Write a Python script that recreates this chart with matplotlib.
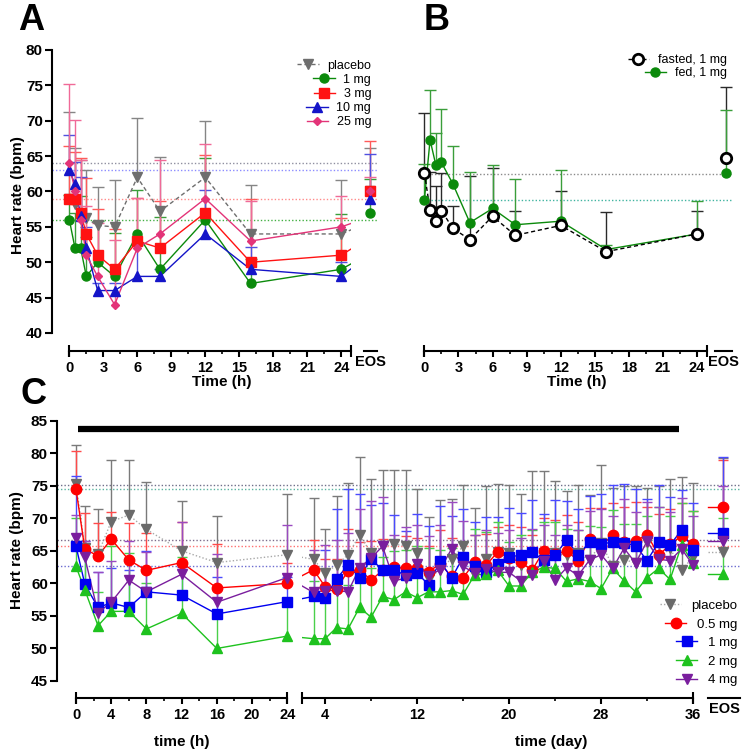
import matplotlib
matplotlib.use("Agg")
import matplotlib.pyplot as plt
from matplotlib.legend import Legend
from matplotlib.lines import Line2D
from matplotlib.path import Path
from matplotlib.transforms import Affine2D, blended_transform_factory

plt.rcParams["font.family"] = ["Liberation Sans", "DejaVu Sans"]

# ---------------- panel A: single ascending dose ----------------
a_time = [0, 0.5, 1, 1.5, 2.5, 4, 6, 8, 12, 16, 24]
a_labels = ["placebo", "1 mg", "3 mg", "10 mg", "25 mg"]
a_placebo = [59, 58.2, 56.3, 56.2, 55.2, 55, 62, 57.2, 62, 54, 54]
a_placebo_sd = [12.3, 8.0, 8.1, 6.8, 5.4, 6.6, 8.4, 7.7, 7.9, 6.9, 7.6]
a_1mg = [56, 52, 52, 48, 50, 48, 54, 49, 56, 47, 49]
a_1mg_sd = [3.5, 5.0, 7.3, 5.5, 5.8, 6.1, 6.2, 7.4, 8.8, 3.5, 7.8]
a_3mg = [59, 59, 57, 54, 51, 49, 53, 52, 57, 50, 51]
a_3mg_sd = [7.4, 6.6, 7.7, 7.9, 6.5, 5.7, 6.1, 6.6, 8.2, 8.9, 5.2]
a_10mg = [63, 61, 56.5, 52, 46, 46, 48, 48, 54, 49, 48]
a_10mg_sd = [5.0, 3.2, 5.6, 3.0, 1.0, 1.0, 4.5, 1.0, 6.2, 3.2, 2.1]
a_25mg = [64, 60, 56, 51, 48, 44, 52, 54, 59, 53, 55]
a_25mg_sd = [11.2, 10.1, 8.4, 7.0, 7.6, 9.2, 7.1, 10.5, 7.7, 5.7, 4.3]
a_eos = [60, 57, 60, 59, 60]
a_eos_sd = [6.2, 4.8, 7.2, 6.3, 2.0]
a_baseline = [64, 63, 59, 56]

# ---------------- panel B: food effect ----------------
b_labels = ["fasted, 1 mg", "fed, 1 mg"]
b_fasted = [62.6, 57.4, 55.9, 57.3, 54.8, 53.2, 56.5, 53.8, 55.2, 51.5, 54.0]
b_fasted_sd = [8.5, 5.4, 4.9, 5.3, 3.2, 9.0, 6.8, 3.4, 4.9, 5.6, 3.2]
b_fed = [58.8, 67.3, 63.8, 64.1, 61.1, 55.6, 57.6, 55.3, 55.8, 51.8, 54.0]
b_fed_sd = [5.1, 7.0, 4.4, 7.5, 5.3, 7.1, 6.2, 6.5, 7.2, 0.7, 4.7]
b_eos = [64.8, 62.6]
b_eos_sd = [9.9, 8.9]
b_baseline = [62.5, 58.8]

# ---------------- panel C: multiple dose ----------------
c_hours = [0, 1, 2.5, 4, 6, 8, 12, 16, 24]
c_days = list(range(3, 37))
c_labels = ["placebo", "0.5 mg", "1 mg", "2 mg", "4 mg"]

c_placebo_h = [75.3, 65.5, 64.5, 69.5, 70.5, 68.3, 65.0, 63.2, 64.4]
c_placebo_h_sd = [5.9, 6.4, 6.9, 9.5, 8.5, 7.3, 7.7, 7.1, 9.4]
c_placebo_d = [63.7, 61.6, 62.8, 64.4, 67.4, 64.7, 65.7, 66.0, 65.8, 64.7, 60.6, 62.2,
               63.8, 65.7, 61.3, 63.8, 64.9, 64.6, 62.8, 64.6, 64.7, 64.6, 64.4, 64.6,
               63.6, 66.2, 62.7, 63.6, 63.2, 66.4, 63.7, 65.4, 62.1, 64.0]
c_placebo_d_sd = [9.4, 6.8, 10.7, 11.0, 12.0, 11.3, 11.8, 11.5, 11.7, 9.8, 9.6, 10.6,
                  9.2, 9.4, 10.3, 11.2, 10.3, 10.5, 11.0, 12.6, 12.6, 11.1, 9.8, 10.5,
                  10.0, 12.0, 11.9, 11.3, 11.7, 8.2, 11.2, 10.6, 14.2, 11.4]

c_05mg_h = [74.5, 65.3, 64.2, 66.8, 63.6, 62.0, 63.2, 59.3, 60.0]
c_05mg_h_sd = [5.9, 5.5, 5.1, 4.1, 5.7, 5.8, 6.2, 6.7, 3.1]
c_05mg_d = [62.1, 59.5, 59.2, 61.9, 62.1, 60.5, 62.0, 62.5, 62.3, 62.4, 61.8, 63.0,
            61.1, 60.8, 63.3, 62.8, 64.8, 63.9, 63.3, 62.0, 65.0, 64.5, 65.0, 63.5,
            66.8, 65.8, 67.4, 66.3, 66.5, 67.5, 64.3, 66.0, 67.3, 66.0]
c_05mg_d_sd = [4.6, 4.2, 4.5, 6.5, 4.2, 6.0, 4.8, 4.2, 5.0, 4.5, 4.0, 5.2,
               5.8, 5.5, 4.2, 4.8, 3.8, 5.0, 5.3, 5.5, 5.0, 5.2, 5.5, 6.0,
               4.8, 5.8, 5.0, 5.5, 6.0, 4.2, 6.3, 5.5, 5.0, 5.2]

c_1mg_h = [65.7, 59.9, 56.3, 57.0, 56.3, 58.7, 58.2, 55.3, 57.2]
c_1mg_h_sd = [10.8, 6.6, 5.5, 5.3, 5.7, 6.3, 4.3, 5.7, 3.8]
c_1mg_d = [58.0, 57.8, 60.7, 62.8, 60.9, 63.8, 62.0, 62.0, 61.3, 61.6, 59.8, 63.4,
           60.8, 64.0, 62.6, 61.7, 63.0, 64.1, 64.3, 64.8, 63.6, 64.3, 66.7, 64.4,
           66.3, 66.1, 66.3, 66.2, 65.8, 63.5, 66.3, 65.9, 68.2, 65.1]
c_1mg_d_sd = [6.4, 7.4, 10.7, 11.7, 12.8, 8.2, 10.3, 8.5, 6.8, 9.0, 9.0, 8.5,
              9.5, 7.5, 6.8, 8.5, 7.2, 7.5, 6.5, 8.0, 7.0, 8.5, 6.0, 7.0,
              7.2, 7.6, 8.8, 9.0, 8.7, 9.5, 8.8, 7.3, 6.2, 7.2]

c_2mg_h = [62.6, 59.0, 53.5, 55.7, 55.7, 53.0, 55.4, 50.0, 51.9]
c_2mg_h_sd = [7.4, 7.0, 5.1, 10.0, 9.0, 7.0, 8.6, 5.0, 5.1]
c_2mg_d = [51.5, 51.5, 53.2, 53.0, 56.3, 54.8, 58.0, 57.5, 58.7, 57.8, 58.7, 58.7,
           58.9, 58.3, 61.3, 61.4, 62.0, 59.6, 59.6, 61.7, 62.5, 62.3, 60.3, 60.7,
           60.3, 59.2, 62.3, 60.4, 58.7, 60.9, 62.3, 60.6, 65.9, 63.1]
c_2mg_d_sd = [8.8, 8.0, 7.0, 6.8, 5.5, 7.5, 6.0, 7.5, 6.5, 8.0, 6.8, 6.5,
              6.5, 8.0, 7.0, 6.5, 7.5, 6.8, 7.8, 6.5, 7.0, 7.2, 8.0, 7.5,
              8.5, 9.5, 9.0, 8.8, 10.5, 9.5, 9.5, 9.8, 6.5, 8.0]

c_4mg_h = [66.9, 64.0, 55.5, 57.1, 60.5, 58.7, 61.4, 57.1, 60.9]
c_4mg_h_sd = [3.6, 2.5, 6.2, 6.4, 6.0, 6.1, 8.0, 7.4, 8.0]
c_4mg_d = [58.6, 58.9, 58.9, 58.7, 62.4, 63.9, 65.7, 60.4, 60.8, 63.0, 61.1, 62.1,
           65.3, 62.6, 61.6, 62.2, 61.7, 61.7, 60.4, 61.3, 63.5, 60.5, 62.4, 61.2,
           63.6, 64.4, 62.3, 65.4, 63.1, 66.5, 63.7, 63.5, 65.3, 62.8]
c_4mg_d_sd = [6.5, 7.0, 7.8, 9.0, 9.0, 8.8, 7.5, 7.0, 7.8, 6.0, 6.2, 6.8,
              7.2, 7.0, 5.8, 6.0, 6.0, 6.5, 6.5, 7.0, 5.5, 7.0, 6.5, 7.0,
              7.5, 7.0, 8.0, 7.5, 7.8, 6.0, 8.0, 7.5, 7.8, 7.5]

c_eos = [64.9, 71.7, 67.8, 61.5, 66.5]
c_eos_sd = [14.3, 7.3, 11.6, 8.5, 8.5]
c_baseline = [75.1, 74.5, 66.7, 65.7, 62.7]
c_treatment = (0.25, 34.8)  # hours start, day end of dosing bar

# ---------------- layout ----------------
W, H = 752, 756
fig = plt.figure(figsize=(W / 100, H / 100), dpi=100)


def px_axes(left, top, right, bottom):
    return fig.add_axes([left / W, 1 - bottom / H, (right - left) / W, (bottom - top) / H])


def ftext(x, y, s, **kw):
    fig.text(x / W, 1 - y / H, s, **kw)


def setup_main(ax, xlim, ylim, yticks=None):
    ax.set_xlim(xlim)
    ax.set_ylim(ylim)
    ax.patch.set_visible(False)
    for side in ("right", "top", "bottom"):
        ax.spines[side].set_visible(False)
    ax.set_xticks([])
    if yticks is None:
        ax.spines["left"].set_visible(False)
        ax.set_yticks([])
    else:
        ax.spines["left"].set_linewidth(1.5)
        ax.set_yticks(yticks, [str(v) for v in yticks], fontweight="bold")
        ax.tick_params(axis="y", length=5, width=1.5, pad=1.5, labelsize=11)


def add_strip(ax, x0, x1, lim, major, labels, minor=(), caps=True, offset=18):
    pos = ax.get_position()
    xmin, xmax = ax.get_xlim()
    f0 = pos.x0 + (x0 - xmin) / (xmax - xmin) * pos.width
    f1 = pos.x0 + (x1 - xmin) / (xmax - xmin) * pos.width
    s = fig.add_axes([f0, pos.y0 - offset / H, f1 - f0, 0.0001])
    s.set_xlim(lim)
    s.patch.set_visible(False)
    for side in ("left", "right", "top"):
        s.spines[side].set_visible(False)
    s.spines["bottom"].set_linewidth(1.5)
    s.set_yticks([])
    s.set_xticks(major, labels, fontweight="bold")
    s.set_xticks(minor, minor=True)
    s.tick_params(axis="x", which="major", length=4 if caps else 0, width=1.5,
                  pad=3, labelsize=10.5)
    s.tick_params(axis="x", which="minor", length=2.5, width=1.2)
    if caps:
        tr = blended_transform_factory(s.transData, s.transAxes)
        s.plot(lim, [0, 0], ls="none", marker="|", ms=9, mew=1.5, color="k",
               transform=tr, clip_on=False)
    return s


def clip_spans(ax, artist, spans):
    rects = [Path.unit_rectangle().transformed(Affine2D().scale(b - a, 1000).translate(a, -500))
             for a, b in spans]
    artist.set_clip_path(Path.make_compound_path(*rects), ax.transData)


def upper_err(ax, x, y, sd, color, cap=4.0, z=2):
    top = [m + s for m, s in zip(y, sd)]
    ax.vlines(x, y, top, color=color, lw=1.0, zorder=z)
    ax.plot(x, top, ls="none", marker="_", ms=cap * 2, mew=1.0, color=color, zorder=z)


def row_legend(ax, handles, labels, x_right, y0, dy, fs, hl, pad):
    for i, (h, l) in enumerate(zip(handles, labels)):
        leg = Legend(ax, [h], [l], loc="center right", bbox_to_anchor=(x_right, y0 - i * dy),
                     frameon=False, fontsize=fs, handlelength=hl, handletextpad=pad,
                     borderpad=0, borderaxespad=0, numpoints=1)
        ax.add_artist(leg)


# ---------------- panel A ----------------
A_XLIM = (-1.53, 27.16)
A_END = 24.9
A_EOS_X = 26.55
A_EOS_LINE_X = 33.0
axA = px_axes(52, 50, 377, 333)
setup_main(axA, A_XLIM, (40, 80), list(range(40, 81, 5)))

a_series = [a_placebo, a_1mg, a_3mg, a_10mg, a_25mg]
a_sds = [a_placebo_sd, a_1mg_sd, a_3mg_sd, a_10mg_sd, a_25mg_sd]
a_colors = ["#6e6e6e", "#0b8a0b", "#ff1212", "#1414c8", "#e33478"]
a_ecolors = ["#858585", "#3a9e3a", "#ff5a5a", "#5050e0", "#f06a98"]
a_markers = ["v", "o", "s", "^", "D"]
a_ms = [6.5, 6.5, 6.5, 6.5, 4.2]
a_ls = [(0, (3, 2)), "-", "-", "-", "-"]
a_base_colors = ["#8f8fa0", "#8c8cff", "#ff8a8a", "#44b044"]

for yb, cb in zip(a_baseline, a_base_colors):
    axA.axhline(yb, color=cb, ls=(0, (1, 1.5)), lw=1.0, zorder=1)

for i in range(len(a_series)):
    upper_err(axA, a_time, a_series[i], a_sds[i], a_ecolors[i])
    upper_err(axA, [A_EOS_X], [a_eos[i]], [a_eos_sd[i]], a_ecolors[i])
for i in range(len(a_series)):
    ln, = axA.plot(a_time + [A_EOS_LINE_X], a_series[i] + [a_eos[i]], color=a_colors[i],
                   ls=a_ls[i], lw=1.0, zorder=3)
    clip_spans(axA, ln, [(A_XLIM[0], A_END)])
    axA.plot(a_time + [A_EOS_X], a_series[i] + [a_eos[i]], ls="none", marker=a_markers[i],
             ms=a_ms[i], color=a_colors[i], zorder=4, clip_on=False)

a_handles = [Line2D([], [], color=a_colors[i], ls=a_ls[i], lw=1.0, marker=a_markers[i],
                    ms=a_ms[i]) for i in range(len(a_series))]
row_legend(axA, a_handles, a_labels, 0.982, 0.9445, 0.0498, 9, 1.7, 0.7)

add_strip(axA, 0, A_END, (0, A_END), list(range(0, 25, 3)),
          [str(v) for v in range(0, 25, 3)], minor=[1.5 + 3 * k for k in range(8)])
add_strip(axA, 26.0, A_XLIM[1], (0, 1), [0.5], ["EOS"], caps=False)

# ---------------- panel B ----------------
axB = px_axes(407, 50, 733, 333)
setup_main(axB, A_XLIM, (40, 80))
b_series = [b_fasted, b_fed]
b_sds = [b_fasted_sd, b_fed_sd]
b_colors = ["#000000", "#0b8a0b"]
b_ecolors = ["#2a2a2a", "#3a9e3a"]
b_faces = ["white", "#0b8a0b"]
b_ms = [7.5, 6.5]
b_ls = [(0, (3, 2)), "-"]
b_base_colors = ["#8a8a8a", "#40b4a0"]

for yb, cb in zip(b_baseline, b_base_colors):
    axB.hlines(yb, 0, A_XLIM[1], color=cb, ls=(0, (1, 1.5)), lw=1.0, zorder=1)
for i in range(2):
    upper_err(axB, a_time, b_series[i], b_sds[i], b_ecolors[i])
    upper_err(axB, [A_EOS_X], [b_eos[i]], [b_eos_sd[i]], b_ecolors[i])
for i in (1, 0):
    axB.plot(a_time, b_series[i], color=b_colors[i], ls=b_ls[i], lw=1.0, zorder=3)
    axB.plot(a_time + [A_EOS_X], b_series[i] + [b_eos[i]], ls="none", marker="o",
             ms=b_ms[i], mfc=b_faces[i], mec=b_colors[i], mew=2.0 if i == 0 else 1.0,
             zorder=4 + (1 - i), clip_on=False)

b_handles = [Line2D([], [], color=b_colors[i], ls=b_ls[i], lw=1.0, marker="o", ms=b_ms[i],
                    mfc=b_faces[i], mec=b_colors[i], mew=2.0 if i == 0 else 1.0)
             for i in range(2)]
row_legend(axB, b_handles, b_labels, 0.981, 0.9647, 0.047, 9, 1.7, 0.7)

add_strip(axB, 0, A_END, (0, A_END), list(range(0, 25, 3)),
          [str(v) for v in range(0, 25, 3)], minor=[1.5 + 3 * k for k in range(8)])
add_strip(axB, 25.6, 27.1, (0, 1), [0.5], ["EOS"], caps=False)

# ---------------- panel C ----------------
C_XLIM = (-2.16, 75.45)
DAY_X0, DAY_SCALE = 23.07, 1.307
C_EOS_X = 73.5
C_EOS_START = 71.8


def day_x(d):
    return DAY_X0 + DAY_SCALE * d


axC = px_axes(57, 420.7, 740, 681)
setup_main(axC, C_XLIM, (45, 85), list(range(45, 86, 5)))

c_h = [c_placebo_h, c_05mg_h, c_1mg_h, c_2mg_h, c_4mg_h]
c_h_sd = [c_placebo_h_sd, c_05mg_h_sd, c_1mg_h_sd, c_2mg_h_sd, c_4mg_h_sd]
c_d = [c_placebo_d, c_05mg_d, c_1mg_d, c_2mg_d, c_4mg_d]
c_d_sd = [c_placebo_d_sd, c_05mg_d_sd, c_1mg_d_sd, c_2mg_d_sd, c_4mg_d_sd]
c_colors = ["#6a6a6a", "#ff0000", "#0000f0", "#1ec21e", "#7a1e9e"]
c_lcolors = ["#a8a8a8", "#ff0000", "#0000f0", "#1ec21e", "#7a1e9e"]
c_ecolors = ["#7a7a7a", "#ff4a4a", "#4a4aff", "#4ad04a", "#9a4ac0"]
c_markers = ["v", "o", "s", "^", "v"]
c_ms = [7, 7.5, 7, 6.5, 6.5]
c_ls = [(0, (1, 1.5)), "-", "-", "-", "-"]
c_base_colors = ["#70708a", "#5ab4a0", "#7c6c8c", "#ff7070", "#6c6cd0"]

for yb, cb in zip(c_baseline, c_base_colors):
    axC.axhline(yb, color=cb, ls=(0, (1, 1.5)), lw=1.0, zorder=1)

xs_d = [day_x(d) for d in c_days]
axC.plot([c_treatment[0], day_x(c_treatment[1])], [83.7, 83.7], color="black", lw=4.5,
         solid_capstyle="butt", zorder=2)

for i in range(5):
    upper_err(axC, c_hours + xs_d, c_h[i] + c_d[i], c_h_sd[i] + c_d_sd[i], c_ecolors[i], cap=3.6)
    upper_err(axC, [C_EOS_X], [c_eos[i]], [c_eos_sd[i]], c_ecolors[i], cap=3.6)
for i in range(5):
    ln, = axC.plot(c_hours + xs_d, c_h[i] + c_d[i], color=c_lcolors[i], ls=c_ls[i],
                   lw=1.0, zorder=3)
    clip_spans(axC, ln, [(C_XLIM[0], 24), (day_x(2), day_x(36))])
    axC.plot([C_EOS_START, C_EOS_X], [c_eos[i], c_eos[i]], color=c_lcolors[i], ls=c_ls[i],
             lw=1.0, zorder=3)
    axC.plot(c_hours + xs_d + [C_EOS_X], c_h[i] + c_d[i] + [c_eos[i]], ls="none",
             marker=c_markers[i], ms=c_ms[i], color=c_colors[i], zorder=4, clip_on=False)

c_handles = [Line2D([], [], color=c_lcolors[i], ls=c_ls[i], lw=1.0, marker=c_markers[i],
                    ms=c_ms[i], mfc=c_colors[i], mec=c_colors[i]) for i in range(5)]
row_legend(axC, c_handles, c_labels, 0.996, 0.289, 0.0715, 9.5, 1.6, 0.8)

add_strip(axC, 0, 24, (0, 24), list(range(0, 25, 4)), [str(v) for v in range(0, 25, 4)],
          minor=[2 + 4 * k for k in range(6)], offset=17)
add_strip(axC, day_x(2), day_x(36), (2, 36), [4, 12, 20, 28, 36],
          ["4", "12", "20", "28", "36"], minor=[8, 16, 24, 32], offset=17)
add_strip(axC, C_EOS_START, C_XLIM[1], (0, 1), [0.5], ["EOS"], caps=False, offset=17)

# ---------------- text ----------------
lab = dict(fontsize=11, fontweight="bold", ha="center", va="center")
ftext(18.5, 195, "Heart rate (bpm)", rotation=90, **lab)
ftext(17.5, 550, "Heart rate (bpm)", rotation=90, **lab)
ftext(222, 382, "Time (h)", **lab)
ftext(577, 382, "Time (h)", **lab)
ftext(182, 742, "time (h)", **lab)
ftext(551, 742, "time (day)", **lab)
big = dict(fontsize=26, fontweight="bold", ha="center", va="center")
ftext(31, 21, "A", **big)
ftext(437, 21, "B", **big)
ftext(34, 394, "C", **big)

fig.savefig("out.png", dpi=100)
